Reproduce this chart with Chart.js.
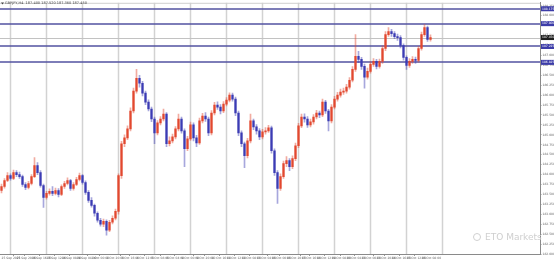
<!DOCTYPE html>
<html>
<head>
<meta charset="utf-8">
<script src="https://cdn.jsdelivr.net/npm/chart.js@4.4.0/dist/chart.umd.min.js"></script>
<style>
  html, body { margin: 0; padding: 0; background: #fff; }
  #wrap { width: 554px; height: 262px; }
</style>
</head>
<body>
<div id="wrap"><canvas id="myChart" width="554" height="262"></canvas></div>
<script>
// GBPJPY H4 candles
const opens = [
  183.600,183.700,183.850,183.975,183.900,184.050,184.000,183.950,183.750,183.675,
  183.775,183.950,184.225,184.050,183.725,183.425,183.525,183.575,183.525,183.600,
  183.500,183.700,183.775,183.850,183.650,183.750,183.875,183.975,183.800,183.550,
  183.350,183.225,183.025,182.850,182.750,182.825,182.600,182.800,182.900,183.075,
  183.975,184.775,184.925,185.150,185.600,186.100,186.425,186.300,186.050,185.825,
  185.650,185.400,185.050,185.300,185.400,185.525,184.775,184.850,184.950,185.150,
  185.400,185.100,184.650,184.900,185.250,184.925,184.800,185.350,185.475,185.400,
  185.050,185.550,185.750,185.700,185.600,185.775,185.875,186.000,185.900,185.550,
  185.050,184.775,184.475,184.850,185.350,185.200,185.100,184.950,185.075,185.100,
  185.175,184.600,184.050,183.650,183.950,184.275,184.350,184.200,184.400,184.725,
  185.225,185.450,185.400,185.250,185.325,185.450,185.550,185.500,185.825,185.600,
  185.350,185.700,185.900,186.000,186.075,186.100,186.200,186.375,186.650,186.975,
  186.900,186.725,186.450,186.600,186.775,186.850,186.725,186.850,187.175,187.525,
  187.600,187.550,187.475,187.450,187.250,186.950,186.750,186.850,186.900,186.875,
  187.175,187.525,187.700,187.400
];
const highs = [
  183.760,183.900,184.050,184.020,184.110,184.100,184.060,183.990,183.800,183.830,
  184.000,184.425,184.300,184.100,183.760,183.580,183.640,183.700,183.660,183.650,
  183.740,183.830,183.920,183.880,183.800,183.930,184.040,184.000,183.840,183.600,
  183.420,183.260,183.060,182.900,182.880,182.860,182.850,182.960,183.130,184.020,
  184.840,185.000,185.230,185.680,186.180,186.650,186.500,186.350,186.100,185.880,
  185.700,185.450,185.360,185.460,185.650,185.560,184.950,185.020,185.210,185.525,
  185.450,185.150,184.960,185.320,185.300,184.990,185.420,185.540,185.560,185.450,
  185.610,185.820,185.830,185.760,185.840,185.940,186.060,186.050,185.950,185.600,
  185.100,184.820,184.910,185.525,185.400,185.260,185.160,185.140,185.180,185.240,
  185.220,184.650,184.100,184.020,184.340,184.450,184.400,184.470,184.790,185.290,
  185.520,185.530,185.460,185.400,185.510,185.620,185.600,185.900,185.870,185.640,
  185.760,185.970,186.070,186.150,186.180,186.270,186.440,186.720,187.525,187.100,
  186.950,186.780,186.680,186.840,186.920,186.900,186.910,187.240,187.600,187.700,
  187.660,187.600,187.540,187.500,187.290,186.990,186.920,186.970,186.960,187.230,
  187.590,187.775,187.740,187.520
];
const lows = [
  183.540,183.660,183.820,183.860,183.870,183.950,183.900,183.700,183.620,183.640,
  183.740,183.920,184.000,183.680,183.175,183.380,183.480,183.470,183.490,183.440,
  183.470,183.650,183.740,183.600,183.610,183.720,183.840,183.760,183.500,183.300,
  183.180,182.950,182.800,182.700,182.690,182.475,182.560,182.760,182.860,183.000,
  183.900,184.700,184.880,185.100,185.550,186.050,186.200,185.980,185.760,185.600,
  185.330,184.775,185.000,185.250,185.350,184.700,184.720,184.800,184.900,185.100,
  185.040,184.200,184.600,184.860,184.850,184.700,184.760,185.300,185.340,184.980,
  185.000,185.500,185.640,185.530,185.560,185.730,185.830,185.850,185.480,184.980,
  184.700,184.175,184.420,184.800,185.130,185.020,184.880,184.900,185.020,185.060,
  184.540,183.980,183.275,183.600,183.900,184.200,184.100,184.150,184.350,184.680,
  185.180,185.320,185.190,185.200,185.270,185.400,185.430,185.460,185.540,185.100,
  185.300,185.650,185.850,185.950,186.020,186.050,186.150,186.330,186.600,186.820,
  186.650,186.175,186.400,186.550,186.720,186.660,186.680,186.800,187.120,187.480,
  187.480,187.420,187.380,187.190,186.880,186.650,186.700,186.800,186.800,186.830,
  187.130,187.480,187.350,187.360
];
const closes = [
  183.700,183.850,183.975,183.900,184.050,184.000,183.950,183.750,183.675,183.775,
  183.950,184.225,184.050,183.725,183.425,183.525,183.575,183.525,183.600,183.500,
  183.700,183.775,183.850,183.650,183.750,183.875,183.975,183.800,183.550,183.350,
  183.225,183.025,182.850,182.750,182.825,182.600,182.800,182.900,183.075,183.975,
  184.775,184.925,185.150,185.600,186.100,186.425,186.300,186.050,185.825,185.650,
  185.400,185.050,185.300,185.400,185.525,184.775,184.850,184.950,185.150,185.400,
  185.100,184.650,184.900,185.250,184.925,184.800,185.350,185.475,185.400,185.050,
  185.550,185.750,185.700,185.600,185.775,185.875,186.000,185.900,185.550,185.050,
  184.775,184.475,184.850,185.350,185.200,185.100,184.950,185.075,185.100,185.175,
  184.600,184.050,183.650,183.950,184.275,184.350,184.200,184.400,184.725,185.225,
  185.450,185.400,185.250,185.325,185.450,185.550,185.500,185.825,185.600,185.350,
  185.700,185.900,186.000,186.075,186.100,186.200,186.375,186.650,186.975,186.900,
  186.725,186.450,186.600,186.775,186.850,186.725,186.850,187.175,187.525,187.600,
  187.550,187.475,187.450,187.250,186.950,186.750,186.850,186.900,186.875,187.175,
  187.525,187.700,187.400,187.450
];

// time axis labels, one every 5 bars
const timeLabels = [
  '25 Sep 2023','25 Sep 20:00','26 Sep 16:00','27 Sep 12:00','28 Sep 08:00','29 Sep 04:00',
  '2 Oct 00:00','2 Oct 20:00','3 Oct 16:00','4 Oct 12:00','5 Oct 08:00','6 Oct 04:00',
  '9 Oct 00:00','9 Oct 20:00','10 Oct 16:00','11 Oct 12:00','12 Oct 08:00','13 Oct 04:00',
  '16 Oct 00:00','16 Oct 20:00','17 Oct 16:00','18 Oct 12:00','19 Oct 08:00','20 Oct 04:00',
  '23 Oct 00:00','23 Oct 20:00','24 Oct 16:00','25 Oct 12:00','26 Oct 08:00'
];
const priceTicks = [
  182.000,182.250,182.500,182.750,183.000,183.250,183.500,183.750,184.000,184.250,
  184.500,184.750,185.000,185.250,185.500,185.750,186.000,186.250,186.500,186.750,
  187.000,187.250,187.500,187.750,188.000,188.250
];
// horizontal levels drawn on the chart + last bid
const levels = [188.175, 187.800, 187.225, 186.825];
const lastPrice = 187.450;

const labelEvery = 5;
const gridEvery = 12;
const gridStart = 3;
const totalSlots = 180;

const bullCol = '#e2482f', bearCol = '#3b3bb4';
const isBull = closes.map((c, i) => c >= opens[i]);

const isGridTick = v => v >= gridStart && (v - gridStart) % gridEvery === 0 && v <= closes.length + 4;
const tickIdx = [];
for (let v = 0; v < totalSlots; v++) {
  const isLab = v % labelEvery === 0 && timeLabels[v / labelEvery] !== undefined;
  if (isGridTick(v) || isLab) tickIdx.push(v);
}

const overlay = {
  id: 'overlay',
  beforeDatasetsDraw(chart) {
    const {ctx, chartArea: a, scales: {x, y}} = chart;
    ctx.save();
    // vertical separators
    ctx.strokeStyle = '#d2d2d2';
    ctx.lineWidth = 1.5;
    tickIdx.filter(isGridTick).forEach(v => {
      const gx = x.getPixelForValue(v);
      ctx.beginPath(); ctx.moveTo(gx, a.top); ctx.lineTo(gx, a.bottom); ctx.stroke();
    });
    ctx.lineWidth = 1;
    ctx.strokeStyle = '#cfcfcf';
    ctx.beginPath(); ctx.moveTo(a.left, a.top + 0.5); ctx.lineTo(a.right, a.top + 0.5); ctx.stroke();
    let py = Math.round(y.getPixelForValue(lastPrice)) + 0.5;
    ctx.strokeStyle = '#c2c2c2';
    ctx.beginPath(); ctx.moveTo(a.left, py); ctx.lineTo(a.right, py); ctx.stroke();
    ctx.strokeStyle = '#5252a0';
    ctx.lineWidth = 1.5;
    levels.forEach(lv => {
      const ly = Math.round(y.getPixelForValue(lv));
      ctx.beginPath(); ctx.moveTo(a.left, ly); ctx.lineTo(a.right, ly); ctx.stroke();
    });
    ctx.restore();
  },
  afterDraw(chart) {
    const {ctx, chartArea: a, scales: {y}} = chart;
    ctx.save();
    ctx.font = '3px "DejaVu Sans"';
    ctx.textBaseline = 'middle';
    const box = (val, fill) => {
      const by = y.getPixelForValue(val);
      ctx.fillStyle = fill;
      ctx.fillRect(a.right + 1, by - 2.5, 13, 5);
      ctx.fillStyle = '#ffffff';
      ctx.fillText(val.toFixed(3), a.right + 2, by);
    };
    levels.forEach(lv => box(lv, '#3c3ca8'));
    box(lastPrice, '#1e1e1e');

    // symbol line top-left
    ctx.fillStyle = '#444';
    ctx.beginPath(); ctx.moveTo(1, 2.5); ctx.lineTo(4, 2.5); ctx.lineTo(2.5, 4.5); ctx.fill();
    ctx.font = '3.5px "DejaVu Sans"';
    ctx.fillText('GBPJPY,H4  ' + opens[opens.length - 1].toFixed(3) + ' ' + highs[highs.length - 1].toFixed(3) + ' ' +
      lows[lows.length - 1].toFixed(3) + ' ' + closes[closes.length - 1].toFixed(3), 5, 3.5);

    // watermark
    ctx.strokeStyle = '#d0d0d0';
    ctx.lineWidth = 1;
    ctx.beginPath(); ctx.arc(477, 237, 3.5, 0, Math.PI * 2); ctx.stroke();
    ctx.fillStyle = '#cfcfcf';
    ctx.font = '9px "DejaVu Sans"';
    ctx.fillText('ETO Markets', 485, 237.5);
    ctx.restore();
  }
};

const ctx = document.getElementById('myChart').getContext('2d');
const chart = new Chart(ctx, {
  type: 'bar',
  data: {
    datasets: [
      {
        label: 'body',
        data: closes.map((c, i) => ({x: i, y: [opens[i], c]})),
        backgroundColor: isBull.map(b => b ? bullCol : bearCol),
        barThickness: 1.6,
        grouped: false,
        order: 1
      },
      {
        label: 'wick',
        data: closes.map((c, i) => ({x: i, y: [lows[i], highs[i]]})),
        backgroundColor: isBull.map(b => b ? 'rgba(226,72,47,0.45)' : 'rgba(59,59,180,0.45)'),
        barThickness: 1,
        grouped: false,
        order: 2
      }
    ]
  },
  options: {
    responsive: false,
    animation: false,
    devicePixelRatio: 1,
    layout: {padding: {top: 1, left: 0, right: 0, bottom: 0}},
    plugins: {legend: {display: false}, tooltip: {enabled: false}},
    scales: {
      x: {
        type: 'linear',
        min: -0.5,
        max: totalSlots - 0.5,
        offset: false,
        afterBuildTicks: s => { s.ticks = tickIdx.map(v => ({value: v})); },
        afterFit: s => { s.height = 8; },
        grid: {
          color: 'rgba(0,0,0,0)',
          tickColor: c => (c.tick && c.tick.value % labelEvery === 0) ? '#999' : 'rgba(0,0,0,0)',
          tickLength: 2
        },
        border: {display: true, color: '#8a8a8a'},
        ticks: {
          autoSkip: false,
          maxRotation: 0,
          align: 'start',
          padding: 0,
          color: '#666',
          font: {size: 3, family: 'DejaVu Sans'},
          callback: v => (v % labelEvery === 0 && timeLabels[v / labelEvery]) || ''
        }
      },
      y: {
        position: 'right',
        min: 182.0,
        max: 188.325,
        afterBuildTicks: s => { s.ticks = priceTicks.map(v => ({value: v})); },
        afterFit: s => { s.width = 14; },
        grid: {color: 'rgba(0,0,0,0)', tickColor: '#999', tickLength: 1.5},
        border: {display: true, color: '#8a8a8a'},
        ticks: {
          padding: 1,
          color: '#666',
          font: {size: 3, family: 'DejaVu Sans'},
          callback: v => v.toFixed(3)
        }
      }
    }
  },
  plugins: [overlay]
});
</script>
</body>
</html>
